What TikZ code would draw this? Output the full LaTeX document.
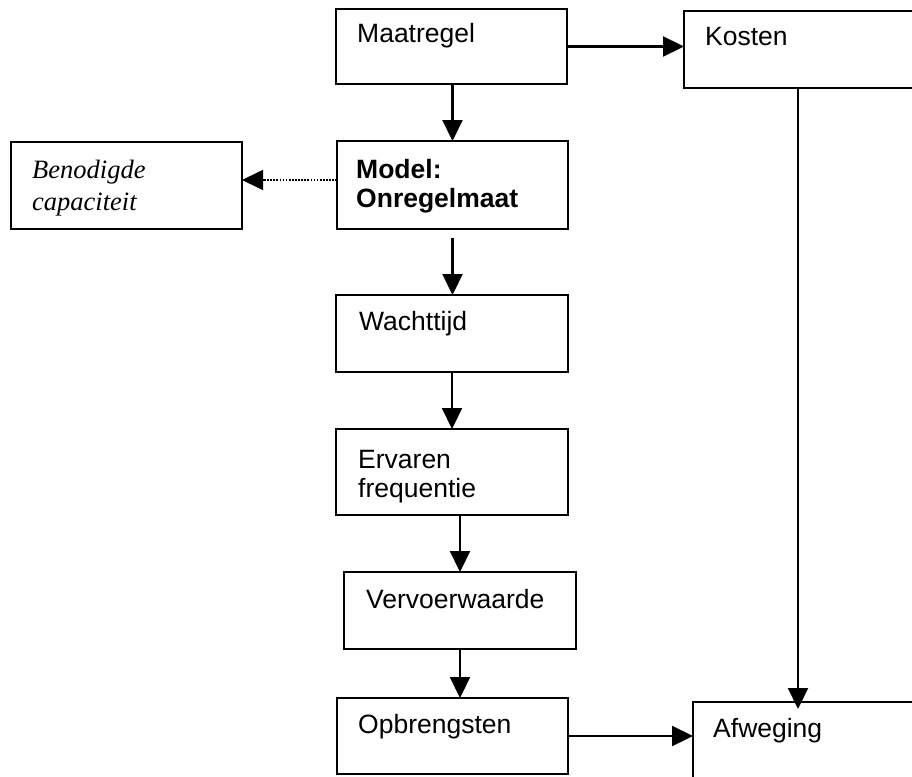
\documentclass[tikz,border=0pt]{standalone}
\usepackage{fontspec}
\setmainfont{Liberation Sans}
\newfontfamily\serifit{Liberation Serif}
\usetikzlibrary{arrows.meta,calc}
\begin{document}
\begin{tikzpicture}[x=1pt,y=-1pt,
  box/.style={draw, line width=2.3pt, rectangle, inner sep=0pt, outer sep=0pt, anchor=north west},
  lbl/.style={anchor=base west, inner sep=0pt, font=\fontsize{26.5}{30}\selectfont},
  lblb/.style={lbl, font=\fontsize{26.5}{30}\selectfont\bfseries},
  lbli/.style={lbl, font=\serifit\itshape\fontsize{26.5}{30}\selectfont},
  conn/.style={line width=2.2pt, -{Triangle[length=21pt,width=20pt]}},
  dotconn/.style={line width=1.7pt, dash pattern=on 1.7pt off 1.4pt, -{Triangle[length=21pt,width=20pt]}}]
\useasboundingbox (0,0) rectangle (912,776);
\fill[white] (0,0) rectangle (912,776);
\clip (0,0) rectangle (912,776);

% boxes
\node[box, minimum width=231pt, minimum height=75pt] (maat) at (336,9) {};
\node[box, minimum width=232pt, minimum height=77pt] (kost) at (684,11) {};
\node[box, minimum width=231pt, minimum height=87pt] (ben) at (11,142) {};
\node[box, minimum width=231pt, minimum height=88pt] (model) at (337,141) {};
\node[box, minimum width=232pt, minimum height=77pt] (wacht) at (336,295) {};
\node[box, minimum width=232pt, minimum height=86pt] (erv) at (336,429) {};
\node[box, minimum width=232pt, minimum height=77pt] (verv) at (344,572) {};
\node[box, minimum width=231pt, minimum height=76pt] (opb) at (337,698) {};
\node[box, minimum width=240pt, minimum height=100pt] (afw) at (693,702) {};

% texts
\node[lbl] (tmaat) at (357,43) {Maatregel};
\node[lbl] (tkost) at (705,46) {Kosten};
\node[lbli] (tben1) at (32,178) {Benodigde};
\node[lbli] (tben2) at (32,210) {capaciteit};
\node[lblb] (tmod1) at (356,178) {Model:};
\node[lblb] (tmod2) at (356,207) {Onregelmaat};
\node[lbl] (twacht) at (359,330) {Wachttijd};
\node[lbl] (terv1) at (358,468) {Ervaren};
\node[lbl] (terv2) at (358,497) {frequentie};
\node[lbl] (tverv) at (366,608) {Vervoerwaarde};
\node[lbl] (topb) at (358,733) {Opbrengsten};
\node[lbl] (tafw) at (713,737) {Afweging};

% connectors
\draw[conn] (maat.east) -- (maat.east -| kost.west);
\draw[conn] (model.north |- maat.south) -- (model.north);
\coordinate (dstart) at ([yshift=5pt]model.west);
\draw[dotconn] (dstart) -- (dstart -| ben.east);
\coordinate (mstart) at ([yshift=-9pt]model.south);
\draw[conn] (mstart) -- (mstart |- wacht.north);
\draw[conn] (wacht.south) -- (wacht.south |- erv.north);
\draw[conn] (verv.north |- erv.south) -- (verv.north);
\draw[conn] (verv.south) -- (verv.south |- opb.north);
\draw[conn] (opb.east) -- (opb.east -| afw.west);
\coordinate (kbot) at ([xshift=-2pt]kost.south);
\draw[conn] (kbot) -- ($(kbot |- afw.north)+(0,7)$);
\end{tikzpicture}
\end{document}
